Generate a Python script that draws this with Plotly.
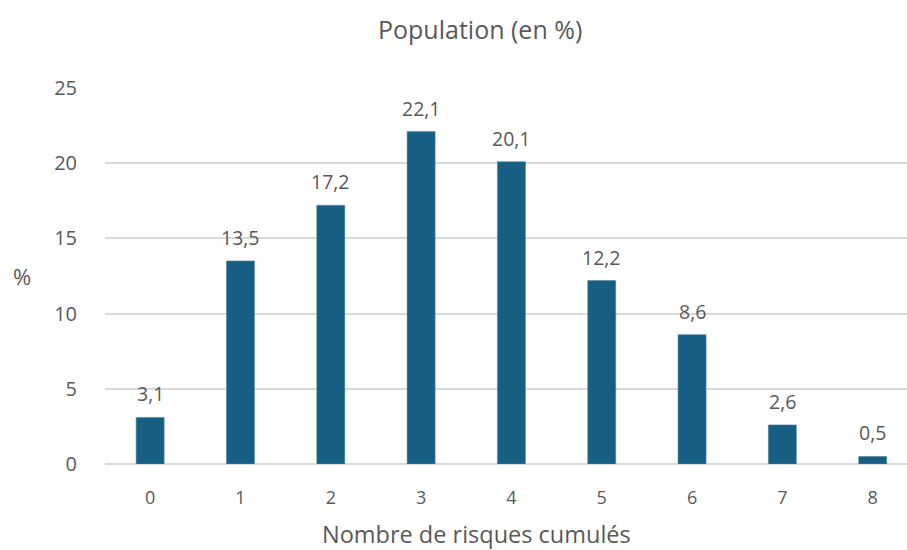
import plotly.graph_objects as go

categories = ["0", "1", "2", "3", "4", "5", "6", "7", "8"]
values = [3.1, 13.5, 17.2, 22.1, 20.1, 12.2, 8.6, 2.6, 0.5]
y_ticks = [0, 5, 10, 15, 20, 25]

BAR = "#175f82"
TXT = "#595959"
FONT = "Open Sans"

fig = go.Figure()
fig.add_trace(go.Bar(
    x=list(range(len(categories))), y=values,
    marker=dict(color=BAR, line=dict(color="#4f86a3", width=0.6)),
    width=0.31, hoverinfo="skip",
))

ann = []
for i, v in enumerate(values):
    ann.append(dict(x=i, y=v, xref="x", yref="y", text=f"{v:.1f}".replace(".", ","),
                    showarrow=False, yanchor="bottom", yshift=8,
                    font=dict(family=FONT, size=19.5, color=TXT)))
ann.append(dict(x=480, y=29, xref="paper", yref="paper", text="Population (en %)",
                showarrow=False, font=dict(family=FONT, size=25, color=TXT)))
ann.append(dict(x=476.5, y=534, xref="paper", yref="paper", text="Nombre de risques cumulés",
                showarrow=False, borderpad=0, font=dict(family=FONT, size=23.5, color=TXT)))
ann.append(dict(x=22, y=276, xref="paper", yref="paper", text="%",
                showarrow=False, font=dict(family=FONT, size=22, color=TXT)))

# convert pixel-based paper annotations
W, H = 907, 550
L, R, T, B = 105, 0, 88, 86
pw, ph = W - L - R, H - T - B
for a in ann:
    if a["xref"] == "paper":
        a["x"] = (a["x"] - L) / pw
        a["y"] = (H - B - a["y"]) / ph
        a["xanchor"] = "center"
        a["yanchor"] = "middle"

fig.update_layout(
    width=W, height=H,
    margin=dict(l=L, r=R, t=T, b=B),
    plot_bgcolor="white", paper_bgcolor="white",
    showlegend=False,
    annotations=ann,
    font=dict(family=FONT, color=TXT),
    xaxis=dict(
        range=[-0.5, 8.38], tickmode="array",
        tickvals=list(range(len(categories))), ticktext=categories,
        showgrid=False, zeroline=False, showline=False,
        ticks="outside", ticklen=0, ticklabelstandoff=17,
        tickfont=dict(family=FONT, size=18, color=TXT),
    ),
    yaxis=dict(
        range=[0, 25], tickvals=y_ticks,
        showgrid=True, gridcolor="#d9d9d9", gridwidth=1.5,
        zeroline=True, zerolinecolor="#d9d9d9", zerolinewidth=1.5,
        showline=False, ticks="outside", ticklen=0, ticklabelstandoff=23,
        tickfont=dict(family=FONT, size=20, color=TXT),
    ),
)

fig.write_html("out.html")
